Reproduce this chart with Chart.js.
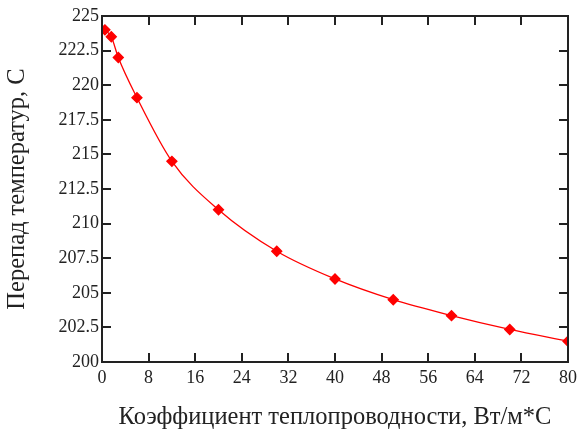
<!DOCTYPE html>
<html>
<head>
<meta charset="utf-8">
<script src="https://cdn.jsdelivr.net/npm/chart.js@4/dist/chart.umd.min.js"></script>
<style>
  html, body { margin: 0; padding: 0; background: #fff; }
  #wrap { width: 582px; height: 439px; }
</style>
</head>
<body>
<div id="wrap"><canvas id="chart_canvas" width="582" height="439"></canvas></div>
<script>
"use strict";
// conductivity (x) vs temperature drop (y)
const conductivity = [0.5, 1.6, 2.8, 6, 12, 20, 30, 40, 50, 60, 70, 80];
const temp_drop = [224.0, 223.5, 222.0, 219.1, 214.5, 211.0, 208.0, 206.0, 204.5, 203.35, 202.35, 201.5];
const x_ticks = [0, 8, 16, 24, 32, 40, 48, 56, 64, 72, 80];
const y_ticks = [200, 202.5, 205, 207.5, 210, 212.5, 215, 217.5, 220, 222.5, 225];

const FONT = "'Liberation Serif', 'Times New Roman', serif";
const INK = "#222";

// frame with inward ticks, like the original plot
const frame_plugin = {
  id: "frame",
  afterDraw(chart) {
    const ctx = chart.ctx;
    const a = chart.chartArea;
    const xs = chart.scales.x, ys = chart.scales.y;
    const len = 9;
    ctx.save();
    ctx.strokeStyle = INK;
    ctx.lineWidth = 2;
    ctx.strokeRect(a.left, a.top, a.right - a.left, a.bottom - a.top);
    ctx.beginPath();
    x_ticks.forEach(v => {
      const px = Math.round(xs.getPixelForValue(v));
      ctx.moveTo(px, a.bottom); ctx.lineTo(px, a.bottom - len);
      ctx.moveTo(px, a.top); ctx.lineTo(px, a.top + len);
    });
    y_ticks.forEach(v => {
      const py = Math.round(ys.getPixelForValue(v));
      ctx.moveTo(a.left, py); ctx.lineTo(a.left + len, py);
      ctx.moveTo(a.right, py); ctx.lineTo(a.right - len, py);
    });
    ctx.stroke();
    ctx.restore();
  }
};

new Chart(document.getElementById("chart_canvas"), {
  type: "line",
  data: {
    datasets: [{
      data: conductivity.map((x, i) => ({ x: x, y: temp_drop[i] })),
      borderColor: "#ff0000",
      backgroundColor: "#ff0000",
      borderWidth: 1.3,
      pointStyle: "rectRot",
      pointRadius: 5,
      pointHoverRadius: 5,
      cubicInterpolationMode: "monotone",
      fill: false
    }]
  },
  options: {
    responsive: false,
    animation: false,
    events: [],
    layout: { padding: { top: 16, right: 14, left: 0, bottom: 0 } },
    plugins: { legend: { display: false }, tooltip: { enabled: false } },
    scales: {
      x: {
        type: "linear",
        min: 0, max: 80,
        afterBuildTicks: s => { s.ticks = x_ticks.map(v => ({ value: v })); },
        afterFit: s => { s.height = 77; },
        grid: { display: false, drawTicks: false },
        border: { display: false },
        ticks: { color: INK, padding: 5, maxRotation: 0, font: { family: FONT, size: 18 } },
        title: {
          display: true,
          text: "Коэффициент теплопроводности, Вт/м*С",
          color: INK,
          font: { family: FONT, size: 24.5 },
          padding: { top: 0, bottom: 7 }
        }
      },
      y: {
        type: "linear",
        min: 200, max: 225,
        afterBuildTicks: s => { s.ticks = y_ticks.map(v => ({ value: v })); },
        afterFit: s => { s.width = 102; },
        grid: { display: false, drawTicks: false },
        border: { display: false },
        ticks: { color: INK, padding: 3, font: { family: FONT, size: 18 } },
        title: {
          display: true,
          text: "Перепад температур, С",
          color: INK,
          font: { family: FONT, size: 24.5 },
          padding: { top: 3, bottom: 0 }
        }
      }
    }
  },
  plugins: [frame_plugin]
});
</script>
</body>
</html>
